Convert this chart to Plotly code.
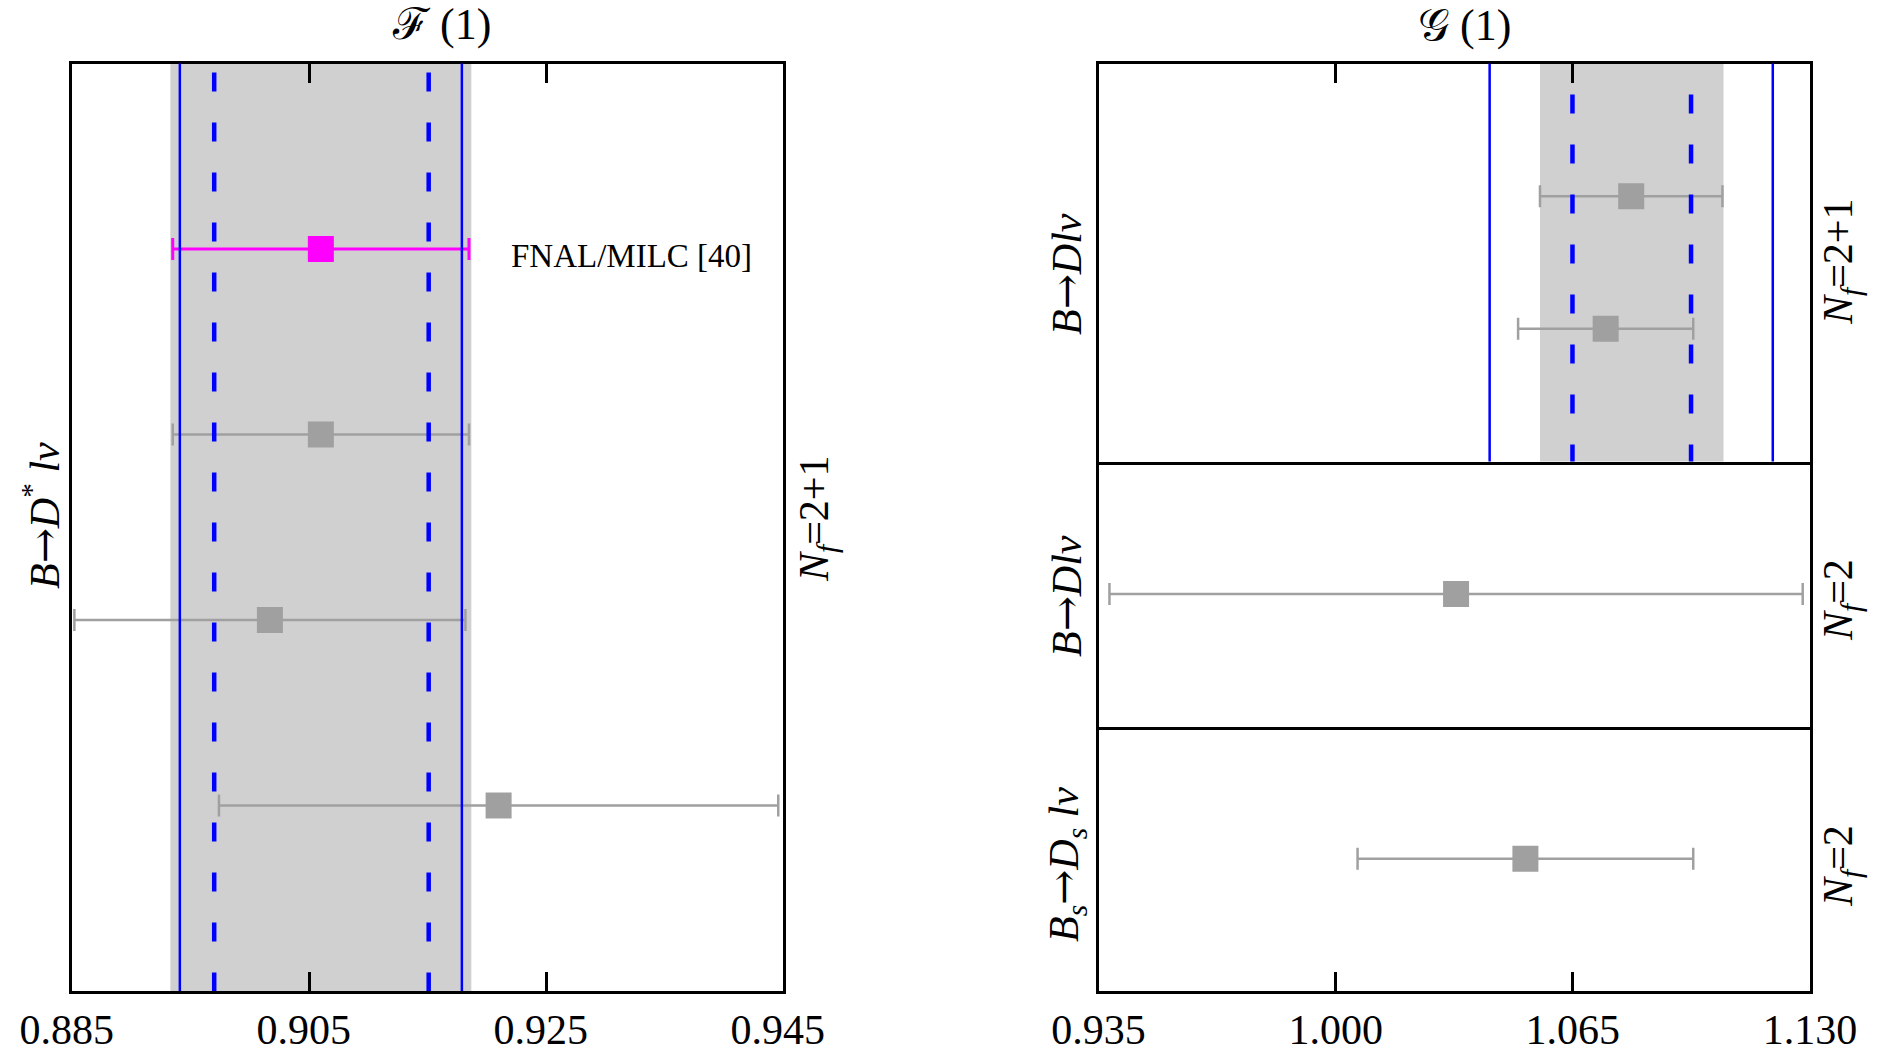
import plotly.graph_objects as go

# ---------------- data ----------------
# F(1) panel (B -> D* l nu, Nf=2+1)
f_labels = ["FNAL/MILC [40]", "", "", ""]
f_vals = [0.906, 0.906, 0.9017, 0.921]
f_errs = [0.0125, 0.0125, 0.0165, 0.0236]
f_rows = [4, 3, 2, 1]
f_colors = ["#ff00ff", "#a0a0a0", "#a0a0a0", "#a0a0a0"]
f_band = [0.8933, 0.9187]
f_solid = [0.8941, 0.9179]
f_dashed = [0.8970, 0.9151]
f_ticks = [0.885, 0.905, 0.925, 0.945]
f_ticktext = ["0.885", "0.905", "0.925", "0.945"]

# G(1) panel
g_top_vals = [1.081, 1.074]      # B -> D l nu, Nf=2+1
g_top_errs = [0.025, 0.024]
g_top_rows = [2, 1]
g_mid_vals = [1.033]             # B -> D l nu, Nf=2
g_mid_errs = [0.095]
g_bot_vals = [1.052]             # Bs -> Ds l nu, Nf=2
g_bot_errs = [0.046]
g_band = [1.0560, 1.1063]
g_solid = [1.0422, 1.1198]
g_dashed = [1.0649, 1.0974]
g_ticks = [0.935, 1.000, 1.065, 1.130]
g_ticktext = ["0.935", "1.000", "1.065", "1.130"]

# ---------------- layout geometry ----------------
W, H = 1883, 1054
def px(x):
    return x / W
def py(y):
    return 1 - y / H

FONT = "Liberation Serif, Times New Roman, serif"
GREY = "#a0a0a0"
BLUE = "#0000ff"
BAND = "#d0d0d0"

fig = go.Figure()

def add_points(vals, errs, rows, colors, xa, ya, thick=2.5):
    for v, e, r, c in zip(vals, errs, rows, colors):
        fig.add_trace(go.Scatter(
            x=[v], y=[r], mode="markers", xaxis=xa, yaxis=ya,
            marker=dict(symbol="square", size=26, color=c, line=dict(width=0)),
            error_x=dict(type="data", array=[e], arrayminus=[e], color=c,
                         thickness=3 if c == "#ff00ff" else thick, width=11),
            showlegend=False, hoverinfo="skip"))

add_points(f_vals, f_errs, f_rows, f_colors, "x", "y")
add_points(g_top_vals, g_top_errs, g_top_rows, [GREY] * 2, "x2", "y2")
add_points(g_mid_vals, g_mid_errs, [1], [GREY], "x3", "y3")
add_points(g_bot_vals, g_bot_errs, [1], [GREY], "x4", "y4")

shapes = []
def add_bands(band, solid, dashed, xr, yr, dashpat):
    shapes.append(dict(type="rect", xref=xr, yref=yr + " domain", x0=band[0], x1=band[1],
                       y0=0, y1=1, fillcolor=BAND, line=dict(width=0), layer="below"))
    for s in solid:
        shapes.append(dict(type="line", xref=xr, yref=yr + " domain", x0=s, x1=s, y0=1, y1=0,
                           line=dict(color=BLUE, width=2.5), layer="above"))
    for d in dashed:
        shapes.append(dict(type="line", xref=xr, yref=yr + " domain", x0=d, x1=d, y0=1, y1=0,
                           line=dict(color=BLUE, width=4.5, dash=dashpat), layer="above"))

add_bands(f_band, f_solid, f_dashed, "x", "y", "0px,9px,19px,22px")
add_bands(g_band, g_solid, g_dashed, "x2", "y2", "0px,31px,19px,0px")

# domains
LX = [px(72), px(783)]
RX = [px(1098.5), px(1810)]
TOP, BOT = py(63.5), py(991)
D1, D2 = py(461.5), py(726.5)

axis_common = dict(showgrid=False, zeroline=False, showline=True, linecolor="black",
                   linewidth=3, fixedrange=True, automargin=False)
tick_font = dict(family=FONT, size=42, color="black")

fig.update_layout(
    template="none",
    width=W, height=H, autosize=False,
    margin=dict(l=0, r=0, t=0, b=0, pad=0, autoexpand=False),
    paper_bgcolor="white", plot_bgcolor="white",
    shapes=shapes,
    xaxis=dict(domain=LX, anchor="y", range=[f_ticks[0], f_ticks[-1]],
               tickvals=f_ticks, ticktext=[t + "\u00a0" for t in f_ticktext],
               ticks="inside", ticklen=19, tickwidth=2.5, tickcolor="black",
               tickfont=tick_font, mirror="ticks", **axis_common),
    yaxis=dict(domain=[BOT, TOP], anchor="x", range=[0, 5], showticklabels=False,
               ticks="", mirror=True, **axis_common),
    xaxis2=dict(domain=RX, anchor="y2", range=[g_ticks[0], g_ticks[-1]], side="top",
                tickvals=g_ticks, showticklabels=False, mirror=True,
                ticks="inside", ticklen=19, tickwidth=2.5, tickcolor="black", **axis_common),
    yaxis2=dict(domain=[D1, TOP], anchor="x2", range=[0, 3], showticklabels=False,
                ticks="", mirror=True, **axis_common),
    xaxis3=dict(domain=RX, anchor="y3", range=[g_ticks[0], g_ticks[-1]],
                showticklabels=False, ticks="", mirror=False, **axis_common),
    yaxis3=dict(domain=[D2, D1], anchor="x3", range=[0, 2], showticklabels=False,
                ticks="", mirror=True, **axis_common),
    xaxis4=dict(domain=RX, anchor="y4", range=[g_ticks[0], g_ticks[-1]],
                tickvals=g_ticks, ticktext=g_ticktext, mirror=False,
                ticks="inside", ticklen=19, tickwidth=2.5, tickcolor="black",
                tickfont=tick_font, **axis_common),
    yaxis4=dict(domain=[BOT, D2], anchor="x4", range=[0, 2], showticklabels=False,
                ticks="", mirror=True, **axis_common),
)

def ann(text, x, y, size=42, angle=0):
    fig.add_annotation(text=text, x=px(x), y=py(y), xref="paper", yref="paper",
                       xanchor="center", yanchor="middle", showarrow=False,
                       textangle=angle, font=dict(family=FONT, size=size, color="black"))

ARROW = "<span style=\"font-family:'DejaVu Serif'\">\u2192</span>"

ann("\u2131 (1)", 441, 25, size=44)
ann("\U0001D4A2 (1)", 1464, 26, size=44)
ann("FNAL/MILC [40]", 631, 256, size=33)

ann("<i>B</i>" + ARROW + "<i>D</i><sup>*</sup> <i>l\u03bd</i>", 42, 516, angle=-90)
ann("<i>N<sub>f</sub></i>=2+1", 817, 519, angle=-90)

ann("<i>B</i>" + ARROW + "<i>Dl\u03bd</i>", 1066, 274, angle=-90)
ann("<i>N<sub>f</sub></i>=2+1", 1841, 262, angle=-90)
ann("<i>B</i>" + ARROW + "<i>Dl\u03bd</i>", 1066, 596, angle=-90)
ann("<i>N<sub>f</sub></i>=2", 1841, 600, angle=-90)
ann("<i>B<sub>s</sub></i>" + ARROW + "<i>D<sub>s</sub> l\u03bd</i>", 1066, 865, angle=-90)
ann("<i>N<sub>f</sub></i>=2", 1841, 866, angle=-90)

fig.write_html("out.html")
